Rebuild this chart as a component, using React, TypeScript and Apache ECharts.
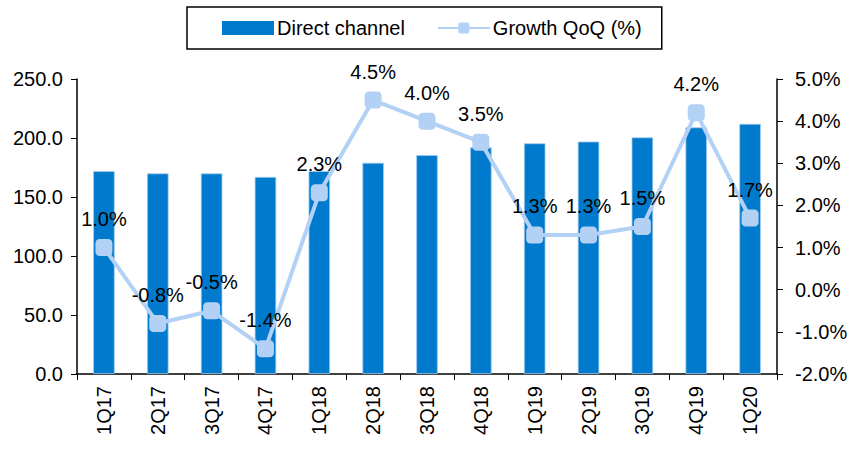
import React, { useEffect, useRef } from "react";
import * as echarts from "echarts";

const categories = ["1Q17", "2Q17", "3Q17", "4Q17", "1Q18", "2Q18", "3Q18", "4Q18", "1Q19", "2Q19", "3Q19", "4Q19", "1Q20"];
const directChannel = [172, 170, 170, 167, 172, 179, 185.5, 192, 195.5, 197, 200.5, 209, 212];
const growthQoQ = [1.0, -0.8, -0.5, -1.4, 2.3, 4.5, 4.0, 3.5, 1.3, 1.3, 1.5, 4.2, 1.7];
const leftTicks = { min: 0, max: 250, interval: 50 };
const rightTicks = { min: -2, max: 5, interval: 1 };

const FONT = "Liberation Sans, Arial, sans-serif";

export default function App() {
  const ref = useRef<HTMLDivElement>(null);
  useEffect(() => {
    const chart = echarts.init(ref.current!, null, { renderer: "svg" });
    chart.setOption({
      animation: false,
      textStyle: { fontFamily: FONT },
      legend: {
        top: 7,
        left: 187,
        itemGap: 32,
        padding: [11, 20, 11, 35],
        borderColor: "#000",
        borderWidth: 1.5,
        itemWidth: 52,
        itemHeight: 14,
        textStyle: { fontSize: 20, color: "#000", fontFamily: FONT, padding: [0, 0, 0, -2] },
        data: [
          { name: "Direct channel", icon: "rect", itemStyle: { borderWidth: 0 } },
          { name: "Growth QoQ (%)" },
        ],
      },
      grid: { left: 77, right: 74, top: 79, bottom: 81 },
      xAxis: {
        type: "category",
        data: categories,
        boundaryGap: true,
        axisLine: { lineStyle: { color: "#000", width: 1.5 } },
        axisTick: { show: true, alignWithLabel: false, length: 6, lineStyle: { color: "#000" } },
        axisLabel: { rotate: 90, fontSize: 20, color: "#000", margin: 12, fontFamily: FONT },
      },
      yAxis: [
        {
          type: "value",
          ...leftTicks,
          splitLine: { show: false },
          axisLine: { show: true, lineStyle: { color: "#000", width: 1.5 } },
          axisTick: { show: true, length: 6, lineStyle: { color: "#000" } },
          axisLabel: { fontSize: 20, color: "#000", margin: 14, formatter: (v: number) => v.toFixed(1), fontFamily: FONT },
        },
        {
          type: "value",
          ...rightTicks,
          position: "right",
          splitLine: { show: false },
          axisLine: { show: true, lineStyle: { color: "#000", width: 1.5 } },
          axisTick: { show: true, length: 6, lineStyle: { color: "#000" } },
          axisLabel: { fontSize: 20, color: "#000", margin: 18, formatter: (v: number) => v.toFixed(1) + "%", fontFamily: FONT },
        },
      ],
      series: [
        {
          name: "Direct channel",
          type: "bar",
          data: directChannel,
          barWidth: "40%",
          itemStyle: { color: "#007ACC", borderColor: "#9FCBF0", borderWidth: 0.8 },
        },
        {
          name: "Growth QoQ (%)",
          type: "line",
          yAxisIndex: 1,
          data: growthQoQ,
          symbol: "roundRect",
          symbolSize: 17,
          lineStyle: { color: "#B3D1F5", width: 4 },
          itemStyle: { color: "#B3D1F5" },
          label: {
            show: true,
            position: "top",
            distance: 10,
            fontSize: 20,
            color: "#000",
            fontFamily: FONT,
            formatter: (p: any) => p.value.toFixed(1) + "%",
          },
        },
      ],
    });
    return () => chart.dispose();
  }, []);
  return <div ref={ref} style={{ width: 851, height: 455, position: "absolute", left: 0, top: 0 }} />;
}
